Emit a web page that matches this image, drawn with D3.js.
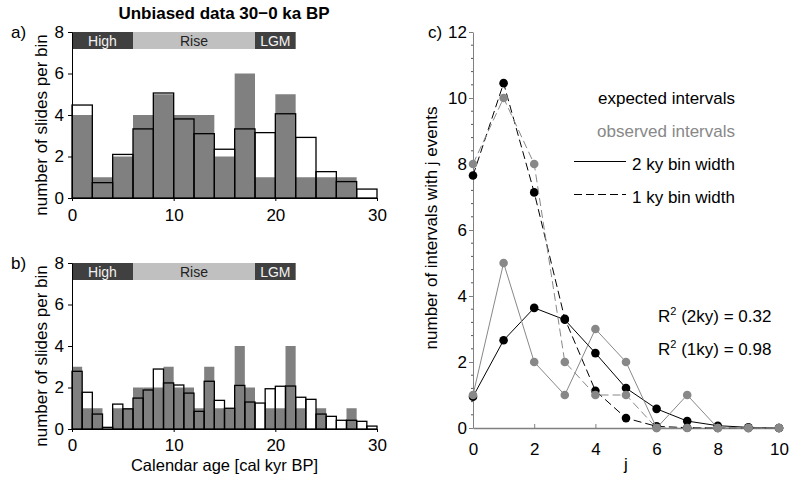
<!DOCTYPE html>
<html>
<head>
<meta charset="utf-8">
<script src="https://cdn.jsdelivr.net/npm/d3@7"></script>
<style>
  body { margin: 0; background: #fff; }
  svg text { font-family: "Liberation Sans", Arial, sans-serif; }
</style>
</head>
<body>
<svg id="chart" width="790" height="480"></svg>
<script>
// ---- Data ----------------------------------------------------------------
// Panel a: 2 ky bins (bin start ages, cal kyr BP)
const binStart2 = [0, 2, 4, 6, 8, 10, 12, 14, 16, 18, 20, 22, 24, 26, 28];
const observed2 = [4, 1, 2, 4, 5, 4, 4, 2, 6, 1, 5, 1, 1, 1, 0];
const expected2 = [4.48, 0.74, 2.1, 3.33, 5.06, 3.81, 3.1, 2.35, 3.33, 3.15, 4.06, 2.92, 1.27, 0.79, 0.43];

// Panel b: 1 ky bins
const binStart1 = [0, 1, 2, 3, 4, 5, 6, 7, 8, 9, 10, 11, 12, 13, 14, 15, 16, 17, 18, 19, 20, 21, 22, 23, 24, 25, 26, 27, 28, 29];
const observed1 = [3, 1, 1, 0, 1, 1, 2, 2, 2, 3, 2, 2, 1, 3, 1, 1, 4, 2, 0, 1, 1, 4, 1, 0, 1, 0, 0, 1, 0, 0];
const expected1 = [2.78, 1.77, 0.72, 0.08, 1.2, 0.97, 1.49, 1.88, 2.89, 2.22, 2.12, 1.73, 0.85, 2.3, 1.38, 1.0, 2.1, 1.3, 1.25, 1.94, 2.06, 2.07, 1.53, 1.43, 0.72, 0.61, 0.42, 0.42, 0.37, 0.14];

// Sea-level periods shown across the top of panels a and b
const periodNames = ["High", "Rise", "LGM"];
const periodStart = [0, 6, 18];
const periodEnd = [6, 18, 22];
const periodDark = [true, false, true];

// Panel c: number of intervals containing j events
const jValues = [0, 1, 2, 3, 4, 5, 6, 7, 8, 9, 10];
const expIntervals2ky = [0.95, 2.66, 3.64, 3.28, 2.27, 1.21, 0.58, 0.21, 0.07, 0.02, 0.0];
const expIntervals1ky = [7.65, 10.45, 7.14, 3.31, 1.13, 0.3, 0.05, 0.01, 0.0, 0.0, 0.0];
const obsIntervals2ky = [1, 5, 2, 1, 3, 2, 0, 1, 0, 0, 0];
const obsIntervals1ky = [8, 10, 8, 2, 1, 1, 0, 0, 0, 0, 0];

const histYTicks = [0, 2, 4, 6, 8];
const ageTicks = [0, 10, 20, 30];
const intervalYTicks = [0, 2, 4, 6, 8, 10, 12];
const jTicks = [0, 2, 4, 6, 8, 10];

// ---- Styling -------------------------------------------------------------
const FONT = 17;
const BAR_GRAY = "#808080";
const DARK = "#404040";
const LIGHT = "#c0c0c0";
const MARK_GRAY = "#888888";
const HEADER_H = 17;

const svg = d3.select("#chart");

svg.append("text")
  .attr("x", 224).attr("y", 19)
  .attr("text-anchor", "middle")
  .attr("font-size", FONT).attr("font-weight", "bold")
  .text("Unbiased data 30\u22120 ka BP");

const xAge = d3.scaleLinear().domain([0, 30]).range([72, 377]);

function histogram(opts) {
  const { top, bottom, starts, width, observed, expected, letter, xPad } = opts;
  const y = d3.scaleLinear().domain([0, 8]).range([bottom, top]);
  const g = svg.append("g");

  const rows = starts.map((s, i) => ({ s, o: observed[i], e: expected[i] }));

  // expected counts: white fill underneath
  g.selectAll(".expFill").data(rows).join("rect")
    .attr("x", d => xAge(d.s)).attr("width", d => xAge(d.s + width) - xAge(d.s))
    .attr("y", d => y(d.e)).attr("height", d => y(0) - y(d.e))
    .attr("fill", "#fff");

  // observed counts
  g.selectAll(".obs").data(rows).join("rect")
    .attr("x", d => xAge(d.s)).attr("width", d => xAge(d.s + width) - xAge(d.s))
    .attr("y", d => y(d.o)).attr("height", d => y(0) - y(d.o))
    .attr("fill", BAR_GRAY);

  // expected counts: outlines on top
  g.selectAll(".expLine").data(rows).join("rect")
    .attr("x", d => xAge(d.s)).attr("width", d => xAge(d.s + width) - xAge(d.s))
    .attr("y", d => y(d.e)).attr("height", d => y(0) - y(d.e))
    .attr("fill", "none").attr("stroke", "#000").attr("stroke-width", 1.3);

  // period header
  const hdr = g.append("g");
  periodNames.forEach((name, i) => {
    hdr.append("rect")
      .attr("x", xAge(periodStart[i])).attr("y", y(8))
      .attr("width", xAge(periodEnd[i]) - xAge(periodStart[i])).attr("height", HEADER_H)
      .attr("fill", periodDark[i] ? DARK : LIGHT);
    hdr.append("text")
      .attr("x", xAge((periodStart[i] + periodEnd[i]) / 2)).attr("y", y(8) + 14)
      .attr("text-anchor", "middle").attr("font-size", 14)
      .attr("fill", periodDark[i] ? "#f2f2f2" : "#222")
      .text(name);
  });

  // axes
  const ya = g.append("g").attr("transform", `translate(${xAge(0)},0)`)
    .call(d3.axisLeft(y).tickValues(histYTicks).tickSize(4).tickSizeOuter(0).tickPadding(4));
  ya.selectAll("text").attr("font-size", FONT).attr("font-family", null).attr("fill", "#000");
  ya.selectAll("line,path").attr("stroke", "#000");

  const xa = g.append("g").attr("transform", `translate(0,${y(0)})`)
    .call(d3.axisBottom(xAge).tickValues(ageTicks).tickSize(3).tickSizeOuter(0).tickPadding(xPad));
  xa.selectAll("text").attr("font-size", FONT).attr("font-family", null).attr("fill", "#000");
  xa.selectAll("line,path").attr("stroke", "#000");

  g.append("text")
    .attr("transform", `translate(47,${(top + bottom) / 2 + 10}) rotate(-90)`)
    .attr("text-anchor", "middle").attr("font-size", FONT)
    .text("number of slides per bin");

  g.append("text").attr("x", 11).attr("y", top + 6)
    .attr("font-size", FONT).text(letter);
  return y;
}

histogram({ top: 32, bottom: 198, starts: binStart2, width: 2,
  observed: observed2, expected: expected2, letter: "a)", xPad: 8 });
histogram({ top: 263, bottom: 429, starts: binStart1, width: 1,
  observed: observed1, expected: expected1, letter: "b)", xPad: 7 });

svg.append("text")
  .attr("x", xAge(15)).attr("y", 471)
  .attr("text-anchor", "middle").attr("font-size", 16.5)
  .text("Calendar age [cal kyr BP]");

// ---- Panel c ---------------------------------------------------------------
const xJ = d3.scaleLinear().domain([0, 10]).range([473, 779]);
const yN = d3.scaleLinear().domain([0, 12]).range([428, 32]);
const gc = svg.append("g");

// minor ticks on the count axis
const minor = d3.range(0, 12.001, 0.4).filter(v => Math.abs(v / 2 - Math.round(v / 2)) > 1e-6);
gc.selectAll(".minor").data(minor).join("line")
  .attr("x1", xJ(0) - 2).attr("x2", xJ(0))
  .attr("y1", d => yN(d)).attr("y2", d => yN(d))
  .attr("stroke", "#555").attr("stroke-width", 1);

const yca = gc.append("g").attr("transform", `translate(${xJ(0)},0)`)
  .call(d3.axisLeft(yN).tickValues(intervalYTicks).tickSize(4).tickSizeOuter(0).tickPadding(2));
yca.selectAll("text").attr("font-size", FONT).attr("font-family", null).attr("fill", "#000");
yca.selectAll("line,path").attr("stroke", BAR_GRAY);

const xca = gc.append("g").attr("transform", `translate(0,${yN(0)})`)
  .call(d3.axisBottom(xJ).tickValues(jTicks).tickSize(-4).tickSizeOuter(0).tickPadding(15));
xca.selectAll("text").attr("font-size", FONT).attr("font-family", null).attr("fill", "#000");
xca.selectAll("line").attr("stroke", BAR_GRAY);
xca.select("path").attr("stroke", BAR_GRAY).attr("stroke-width", 1.5);

const line = d3.line().x((d, i) => xJ(jValues[i])).y(d => yN(d));

function series(vals, color, dash, width) {
  gc.append("path").datum(vals)
    .attr("d", line).attr("fill", "none")
    .attr("stroke", color).attr("stroke-width", width)
    .attr("stroke-dasharray", dash);
}
function dots(vals, color) {
  gc.append("g").selectAll("circle").data(vals).join("circle")
    .attr("cx", (d, i) => xJ(jValues[i])).attr("cy", d => yN(d))
    .attr("r", 4.3).attr("fill", color);
}

series(expIntervals1ky, "#000", "8,4", 1);
series(expIntervals2ky, "#000", null, 1);
dots(expIntervals1ky, "#000");
dots(expIntervals2ky, "#000");
series(obsIntervals1ky, MARK_GRAY, "8,4", 1);
series(obsIntervals2ky, MARK_GRAY, null, 1);
dots(obsIntervals1ky, MARK_GRAY);
dots(obsIntervals2ky, MARK_GRAY);

// legend
const legendRight = 735;
gc.append("text").attr("x", legendRight).attr("y", yN(10) + 6)
  .attr("text-anchor", "end").attr("font-size", FONT).attr("fill", "#000")
  .text("expected intervals");
gc.append("text").attr("x", legendRight).attr("y", yN(9) + 6)
  .attr("text-anchor", "end").attr("font-size", FONT).attr("fill", MARK_GRAY)
  .text("observed intervals");
const leg2y = Math.round(yN(8) - 3) + 0.5;
const leg1y = Math.round(yN(7) - 3) + 0.5;
gc.append("line").attr("x1", 574).attr("x2", 626)
  .attr("y1", leg2y).attr("y2", leg2y).attr("stroke", "#000");
gc.append("text").attr("x", legendRight).attr("y", yN(8) + 6)
  .attr("text-anchor", "end").attr("font-size", FONT)
  .text("2 ky bin width");
gc.append("line").attr("x1", 574).attr("x2", 626)
  .attr("y1", leg1y).attr("y2", leg1y).attr("stroke", "#000")
  .attr("stroke-dasharray", "8,4");
gc.append("text").attr("x", legendRight).attr("y", yN(7) + 6)
  .attr("text-anchor", "end").attr("font-size", FONT)
  .text("1 ky bin width");

// goodness of fit
function r2Label(yVal, txt) {
  const t = gc.append("text").attr("x", 658).attr("y", yN(yVal) + 6).attr("font-size", FONT);
  t.append("tspan").text("R");
  t.append("tspan").attr("font-size", 11).attr("dy", -7).text("2");
  t.append("tspan").attr("dy", 7).text(" " + txt);
}
r2Label(3.4, "(2ky) = 0.32");
r2Label(2.4, "(1ky) = 0.98");

gc.append("text")
  .attr("transform", `translate(437,228) rotate(-90)`)
  .attr("text-anchor", "middle").attr("font-size", FONT)
  .text("number of intervals with j events");
gc.append("text").attr("x", xJ(5)).attr("y", 470)
  .attr("text-anchor", "middle").attr("font-size", FONT).text("j");
gc.append("text").attr("x", 428).attr("y", 38)
  .attr("font-size", FONT).text("c)");
</script>
</body>
</html>
